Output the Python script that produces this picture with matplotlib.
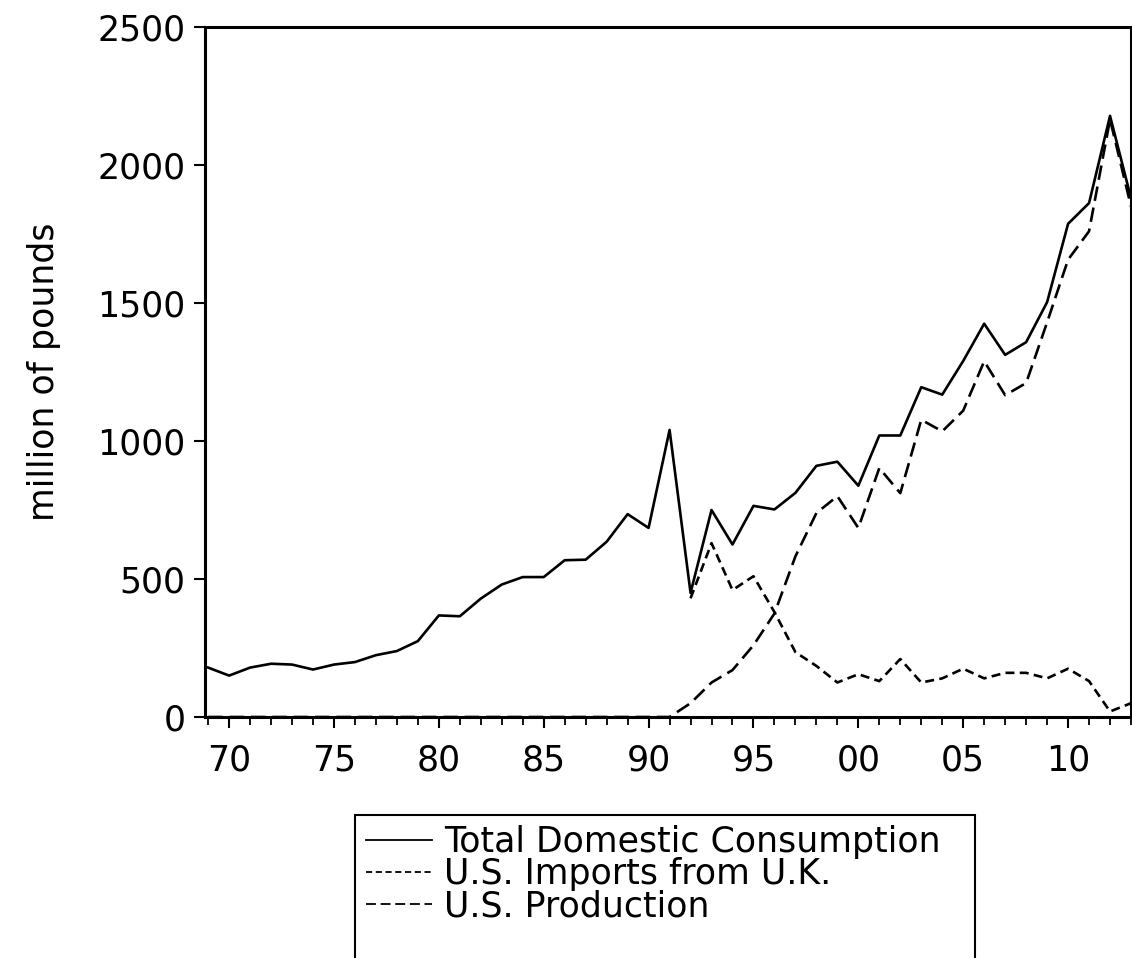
import matplotlib
matplotlib.use("Agg")
import matplotlib.pyplot as plt
from matplotlib.patches import Rectangle
from matplotlib.ticker import MultipleLocator, FuncFormatter

# ---- data ----
years = list(range(1969, 2014))
total = [179, 150, 179, 193, 190, 172, 190, 199, 224, 239,
         275, 368, 365, 429, 480, 507, 507, 568, 570, 635,
         735, 685, 1040, 450, 750, 625, 765, 752, 812, 910,
         925, 838, 1020, 1020, 1195, 1168, 1290, 1425, 1312, 1358,
         1503, 1787, 1862, 2178, 1880]
production = [0] * 23 + [50, 125, 170, 260, 375, 582, 739, 800, 685, 902,
                         811, 1077, 1035, 1110, 1289, 1166, 1210, 1430, 1657, 1760,
                         2165, 1850]
import_years = list(range(1992, 2014))
imports = [430, 630, 460, 510, 380, 235, 185, 125, 155, 130,
           210, 125, 140, 175, 140, 160, 160, 140, 175, 130,
           20, 50]

labels = ["Total Domestic Consumption", "U.S. Imports from U.K.", "U.S. Production"]
yticks = [0, 500, 1000, 1500, 2000, 2500]

# ---- figure ----
W, H = 1132, 958
fig = plt.figure(figsize=(W / 100, H / 100), dpi=100)
ax = fig.add_axes([205 / W, 1 - 717 / H, (1131 - 205) / W, (717 - 27) / H])

lw = 1.9
l1, = ax.plot(years, total, color="black", lw=lw)
l2, = ax.plot(import_years, imports, color="black", lw=lw, dashes=(3.4, 2.0))
l3, = ax.plot(years, production, color="black", lw=lw, dashes=(5.5, 2.6))

ax.set_xlim(1968.85, 2013.0)
ax.set_ylim(0, 2500)
ax.set_yticks(yticks)
ax.xaxis.set_major_locator(MultipleLocator(5))
ax.xaxis.set_minor_locator(MultipleLocator(1))
ax.xaxis.set_major_formatter(FuncFormatter(lambda v, p: "%02d" % (int(round(v)) % 100)))

fs = 25
ax.tick_params(axis="both", which="major", direction="out", length=8, width=1.5,
               labelsize=fs, pad=6, color="black")
ax.tick_params(axis="x", which="major", pad=11)
ax.tick_params(axis="x", which="minor", direction="out", length=6, width=1.3)
for s in ax.spines.values():
    s.set_linewidth(2.2)

ax.set_ylabel("million of pounds", fontsize=fs, labelpad=26)

leg = fig.legend([l1, l2, l3], labels, loc="upper left",
                 bbox_to_anchor=(357 / W, 1 - 816 / H), frameon=False,
                 fontsize=fs, handlelength=1.9, handletextpad=0.35,
                 labelspacing=-0.05, borderpad=0.25, borderaxespad=0)
for h in leg.legend_handles:
    h.set_linewidth(1.3)

fig.patches.append(Rectangle((355 / W, -0.05), (975 - 355) / W, (958 - 815) / H + 0.05,
                             transform=fig.transFigure, fill=False,
                             edgecolor="black", lw=1.5))

fig.savefig("out.png", dpi=100)
